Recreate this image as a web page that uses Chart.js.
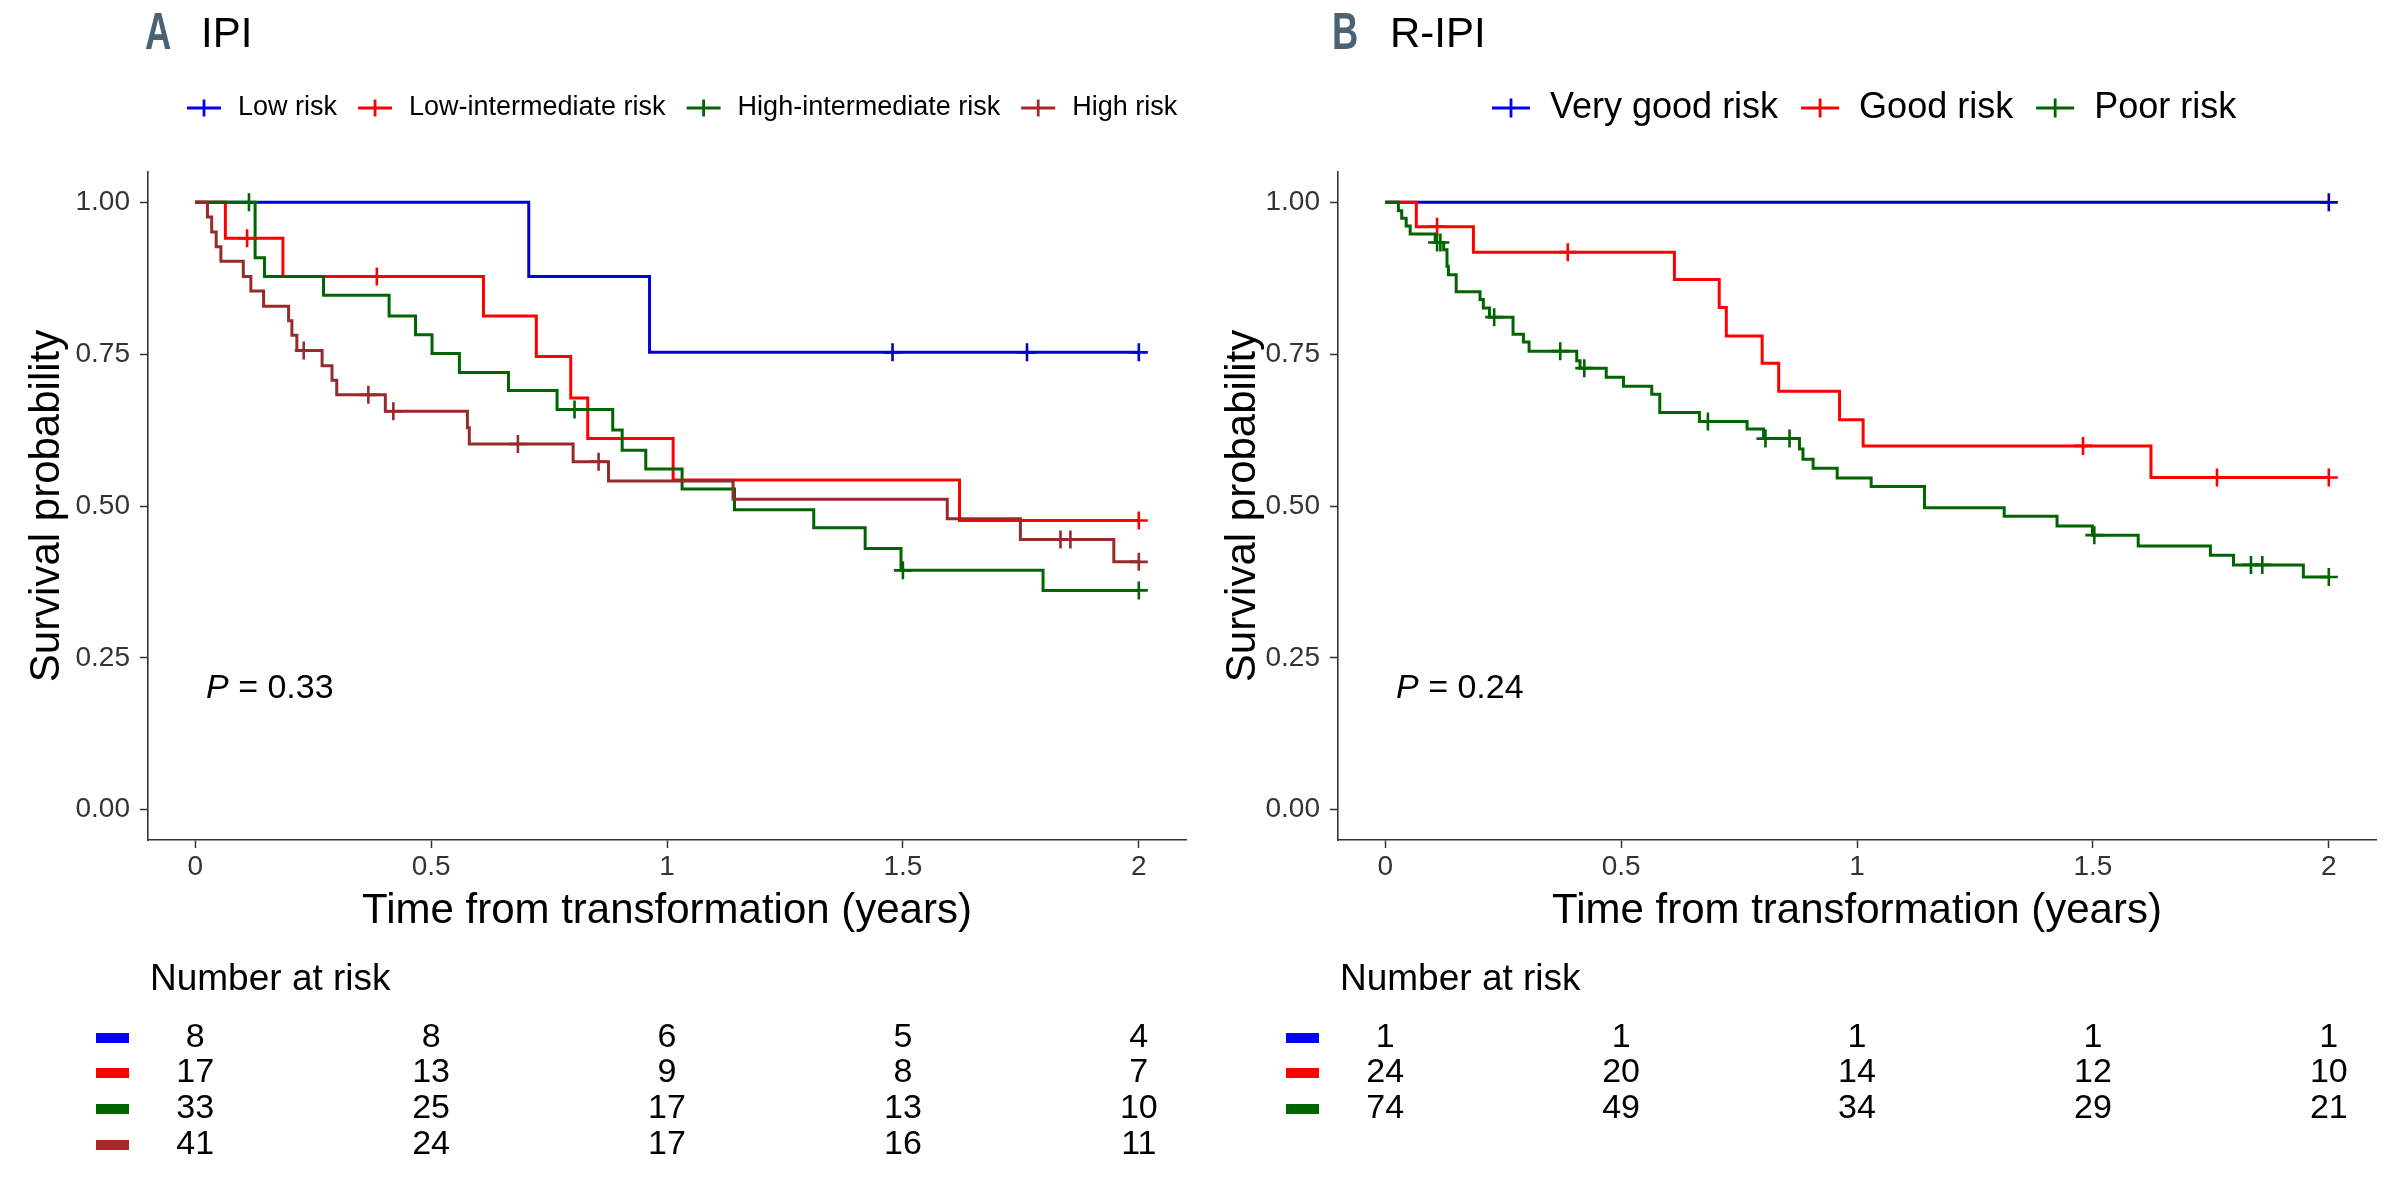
<!DOCTYPE html>
<html>
<head>
<meta charset="utf-8">
<title>IPI / R-IPI survival</title>
<script src="https://cdn.jsdelivr.net/npm/chart.js@4.4.1/dist/chart.umd.min.js"></script>
<style>
  html, body { margin: 0; padding: 0; background: #fff; overflow: hidden; }
  #wrap { position: relative; width: 2404px; height: 1179px; }
  canvas { position: absolute; top: 0; }
  #panelA { left: 0; }
  #panelB { left: 1202px; }
</style>
</head>
<body>
<div id="wrap">
  <canvas id="panelA" width="1202" height="1179"></canvas>
  <canvas id="panelB" width="1202" height="1179"></canvas>
</div>
<script>
const FONT = "'Liberation Sans', Arial, Helvetica, sans-serif";
Chart.defaults.font.family = FONT;

// axes
const xTicks = [0, 0.5, 1, 1.5, 2];
const xTickLabels = ['0', '0.5', '1', '1.5', '2'];
const yTicks = [0, 0.25, 0.5, 0.75, 1];
const yTickLabels = ['0.00', '0.25', '0.50', '0.75', '1.00'];

// colours
const BLUE = '#0000ff';
const RED = '#ff0000';
const GREEN = '#006400';
const BROWN = '#a52a2a';

// ---- Panel A: IPI ----
const ipiGroups = ['Low risk', 'Low-intermediate risk', 'High-intermediate risk', 'High risk'];

const lowTimes = [0, 0.707, 0.963, 2.0];
const lowSurv = [1, 0.878, 0.753, 0.753];
const lowCensor = [1.478, 1.763, 2.0];

const lowIntTimes = [0, 0.064, 0.186, 0.611, 0.723, 0.796, 0.832, 1.013, 1.620, 2.0];
const lowIntSurv = [1, 0.941, 0.878, 0.813, 0.746, 0.678, 0.611, 0.543, 0.476, 0.476];
const lowIntCensor = [0.110, 0.385, 2.0];

const highIntTimes = [0, 0.127, 0.147, 0.272, 0.411, 0.467, 0.502, 0.560, 0.664, 0.767, 0.885, 0.905, 0.955, 1.032, 1.143, 1.311, 1.420, 1.496, 1.797, 2.0];
const highIntSurv = [1, 0.909, 0.878, 0.847, 0.813, 0.782, 0.751, 0.720, 0.690, 0.659, 0.625, 0.592, 0.561, 0.528, 0.494, 0.464, 0.430, 0.394, 0.361, 0.361];
const highIntCensor = [0.114, 0.804, 1.50, 2.0];

const highTimes = [0, 0.026, 0.035, 0.0445, 0.0545, 0.102, 0.118, 0.145, 0.198, 0.205, 0.2155, 0.269, 0.290, 0.300, 0.403, 0.577, 0.581, 0.801, 0.876, 1.140, 1.594, 1.749, 1.947, 2.0];
const highSurv = [1, 0.976, 0.951, 0.927, 0.903, 0.878, 0.854, 0.829, 0.805, 0.781, 0.756, 0.731, 0.707, 0.683, 0.656, 0.629, 0.602, 0.573, 0.541, 0.511, 0.479, 0.445, 0.408, 0.408];
const highCensor = [0.230, 0.367, 0.420, 0.684, 0.855, 1.834, 1.855, 2.0];

const ipiAtRiskLow = [8, 8, 6, 5, 4];
const ipiAtRiskLowInt = [17, 13, 9, 8, 7];
const ipiAtRiskHighInt = [33, 25, 17, 13, 10];
const ipiAtRiskHigh = [41, 24, 17, 16, 11];

// ---- Panel B: R-IPI ----
const ripiGroups = ['Very good risk', 'Good risk', 'Poor risk'];

const veryGoodTimes = [0, 2.0];
const veryGoodSurv = [1, 1];
const veryGoodCensor = [2.0];

const goodTimes = [0, 0.066, 0.187, 0.613, 0.708, 0.723, 0.799, 0.834, 0.963, 1.013, 1.623, 2.0];
const goodSurv = [1, 0.960, 0.918, 0.873, 0.827, 0.780, 0.735, 0.689, 0.642, 0.599, 0.547, 0.547];
const goodCensor = [0.110, 0.387, 1.479, 1.763, 2.0];

const poorTimes = [0, 0.028, 0.035, 0.0445, 0.053, 0.106, 0.124, 0.131, 0.134, 0.1505, 0.201, 0.208, 0.221, 0.271, 0.293, 0.305, 0.406, 0.413, 0.4685, 0.505, 0.565, 0.582, 0.666, 0.767, 0.802, 0.878, 0.8855, 0.907, 0.958, 1.030, 1.143, 1.312, 1.424, 1.499, 1.596, 1.749, 1.798, 1.946, 2.0];
const poorSurv = [1, 0.986, 0.974, 0.961, 0.948, 0.934, 0.922, 0.895, 0.881, 0.853, 0.840, 0.826, 0.811, 0.783, 0.770, 0.755, 0.739, 0.727, 0.712, 0.697, 0.684, 0.654, 0.639, 0.627, 0.611, 0.594, 0.577, 0.562, 0.546, 0.532, 0.497, 0.483, 0.467, 0.452, 0.434, 0.419, 0.403, 0.383, 0.383];
const poorCensor = [0.110, 0.117, 0.231, 0.371, 0.422, 0.684, 0.806, 0.857, 1.503, 1.835, 1.859, 2.0];

const ripiAtRiskVeryGood = [1, 1, 1, 1, 1];
const ripiAtRiskGood = [24, 20, 14, 12, 10];
const ripiAtRiskPoor = [74, 49, 34, 29, 21];

// survival value of a step curve at time t
function survAt(times, surv, t) {
    let s = surv[0];
    for (let i = 0; i < times.length; i++) {
        if (times[i] <= t) s = surv[i];
    }
    return s;
}

function buildDatasets(curves) {
    const lines = [];
    const marks = [];
    curves.forEach(c => {
        lines.push({
            label: c.name,
            data: c.times.map((t, i) => ({ x: t, y: c.surv[i] })),
            stepped: 'before',
            borderColor: c.color,
            borderWidth: 3,
            pointRadius: 0,
            fill: false
        });
        marks.push({
            label: c.name + ' censored',
            data: c.censor.map(t => ({ x: t, y: survAt(c.times, c.surv, t) })),
            showLine: false,
            pointStyle: 'cross',
            pointRadius: 9,
            pointBorderWidth: 2.6,
            borderColor: c.color,
            backgroundColor: c.color
        });
    });
    // later groups are drawn on top, censor marks above lines
    return marks.reverse().concat(lines.reverse());
}

function decorPlugin(cfg) {
    return {
        id: 'decor',
        afterDraw(chart) {
            const ctx = chart.ctx;
            const xs = chart.scales.x;
            const ys = chart.scales.y;
            const area = chart.chartArea;

            // panel letter and title
            ctx.save();
            ctx.fillStyle = '#4a6273';
            ctx.font = 'bold 52px ' + FONT;
            ctx.textBaseline = 'alphabetic';
            ctx.translate(cfg.letterX, 49);
            ctx.scale(0.7, 1);
            ctx.fillText(cfg.letter, 0, 0);
            ctx.restore();

            ctx.save();
            ctx.fillStyle = '#000';
            ctx.font = '42px ' + FONT;
            ctx.textBaseline = 'alphabetic';
            ctx.fillText(cfg.title, cfg.titleX, 47);
            ctx.restore();

            // legend
            ctx.save();
            ctx.font = cfg.legendSize + 'px ' + FONT;
            ctx.textBaseline = 'middle';
            ctx.textAlign = 'left';
            let x = cfg.legendX;
            const ly = 108;
            cfg.groups.forEach((g, i) => {
                ctx.strokeStyle = cfg.colors[i];
                ctx.lineWidth = 2.8;
                ctx.beginPath();
                ctx.moveTo(x, ly);
                ctx.lineTo(x + cfg.symW, ly);
                ctx.moveTo(x + cfg.symW / 2, ly - cfg.symH / 2);
                ctx.lineTo(x + cfg.symW / 2, ly + cfg.symH / 2);
                ctx.stroke();
                x += cfg.symW + cfg.symGap;
                ctx.fillStyle = '#000';
                ctx.fillText(g, x, ly);
                x += ctx.measureText(g).width + cfg.itemGap;
            });
            ctx.restore();

            // p value
            ctx.save();
            ctx.fillStyle = '#000';
            ctx.textBaseline = 'middle';
            const px = xs.getPixelForValue(0.023);
            const py = ys.getPixelForValue(0.2);
            ctx.font = 'italic 34px ' + FONT;
            ctx.fillText('P', px, py);
            const pw = ctx.measureText('P').width;
            ctx.font = '34px ' + FONT;
            ctx.fillText(' = ' + cfg.pValue, px + pw, py);
            ctx.restore();

            // number at risk table
            ctx.save();
            ctx.fillStyle = '#000';
            ctx.textBaseline = 'middle';
            ctx.font = '37px ' + FONT;
            ctx.fillText('Number at risk', area.left + 2, 980);
            const rowY = [1038, 1073, 1109, 1145];
            ctx.font = '34px ' + FONT;
            ctx.textAlign = 'center';
            cfg.atRisk.forEach((row, r) => {
                const y = rowY[r];
                ctx.fillStyle = cfg.colors[r];
                ctx.fillRect(area.left - 52, y - 5, 33, 10);
                ctx.fillStyle = '#000';
                row.forEach((n, k) => {
                    ctx.fillText(String(n), xs.getPixelForValue(xTicks[k]), y);
                });
            });
            ctx.restore();
        }
    };
}

function makePanel(canvasId, cfg) {
    const axisColor = '#333333';
    const tickFont = { size: 28, family: FONT };
    return new Chart(document.getElementById(canvasId), {
        type: 'line',
        data: { datasets: buildDatasets(cfg.curves) },
        options: {
            responsive: false,
            animation: false,
            devicePixelRatio: 1,
            layout: { padding: { left: 0, right: cfg.padRight, top: 172, bottom: 239 } },
            plugins: {
                legend: { display: false },
                tooltip: { enabled: false }
            },
            scales: {
                x: {
                    type: 'linear',
                    min: -0.1,
                    max: 2.1,
                    afterBuildTicks: s => { s.ticks = xTicks.map(v => ({ value: v })); },
                    afterFit: s => { s.height = 100; },
                    ticks: {
                        callback: (v, i) => xTickLabels[i],
                        font: tickFont,
                        color: axisColor,
                        padding: 2,
                        maxRotation: 0,
                        autoSkip: false
                    },
                    grid: {
                        drawOnChartArea: false,
                        drawTicks: true,
                        tickLength: 8,
                        tickColor: axisColor,
                        tickWidth: 1.5
                    },
                    border: { display: true, color: axisColor, width: 1.6 },
                    title: {
                        display: true,
                        text: 'Time from transformation (years)',
                        color: '#000',
                        font: { size: 42, family: FONT },
                        padding: { top: 0, bottom: 3 }
                    }
                },
                y: {
                    type: 'linear',
                    min: -0.05,
                    max: 1.05,
                    afterBuildTicks: s => { s.ticks = yTicks.map(v => ({ value: v })); },
                    afterFit: s => { s.width = cfg.yWidth; },
                    ticks: {
                        callback: (v, i) => yTickLabels[i],
                        font: tickFont,
                        color: axisColor,
                        padding: 10,
                        autoSkip: false
                    },
                    grid: {
                        drawOnChartArea: false,
                        drawTicks: true,
                        tickLength: 8,
                        tickColor: axisColor,
                        tickWidth: 1.5
                    },
                    border: { display: true, color: axisColor, width: 1.6 },
                    title: {
                        display: true,
                        text: 'Survival probability',
                        color: '#000',
                        font: { size: 42, family: FONT },
                        padding: { top: cfg.yTitlePad, bottom: 0 }
                    }
                }
            }
        },
        plugins: [decorPlugin(cfg)]
    });
}

makePanel('panelA', {
    letter: 'A', letterX: 145, title: 'IPI', titleX: 201,
    groups: ipiGroups,
    colors: [BLUE, RED, GREEN, BROWN],
    legendX: 187, legendSize: 27, symW: 34, symH: 17, symGap: 17, itemGap: 21,
    pValue: '0.33',
    padRight: 16, yWidth: 148, yTitlePad: 22,
    atRisk: [ipiAtRiskLow, ipiAtRiskLowInt, ipiAtRiskHighInt, ipiAtRiskHigh],
    curves: [
        { name: ipiGroups[0], times: lowTimes, surv: lowSurv, censor: lowCensor, color: '#0000d8' },
        { name: ipiGroups[1], times: lowIntTimes, surv: lowIntSurv, censor: lowIntCensor, color: RED },
        { name: ipiGroups[2], times: highIntTimes, surv: highIntSurv, censor: highIntCensor, color: GREEN },
        { name: ipiGroups[3], times: highTimes, surv: highSurv, censor: highCensor, color: '#962b2b' }
    ]
});

makePanel('panelB', {
    letter: 'B', letterX: 130, title: 'R-IPI', titleX: 188,
    groups: ripiGroups,
    colors: [BLUE, RED, GREEN],
    legendX: 290, legendSize: 36, symW: 38, symH: 19, symGap: 20, itemGap: 23,
    pValue: '0.24',
    padRight: 28, yWidth: 136, yTitlePad: 16,
    atRisk: [ripiAtRiskVeryGood, ripiAtRiskGood, ripiAtRiskPoor],
    curves: [
        { name: ripiGroups[0], times: veryGoodTimes, surv: veryGoodSurv, censor: veryGoodCensor, color: '#0000b8' },
        { name: ripiGroups[1], times: goodTimes, surv: goodSurv, censor: goodCensor, color: RED },
        { name: ripiGroups[2], times: poorTimes, surv: poorSurv, censor: poorCensor, color: GREEN }
    ]
});
</script>
</body>
</html>
